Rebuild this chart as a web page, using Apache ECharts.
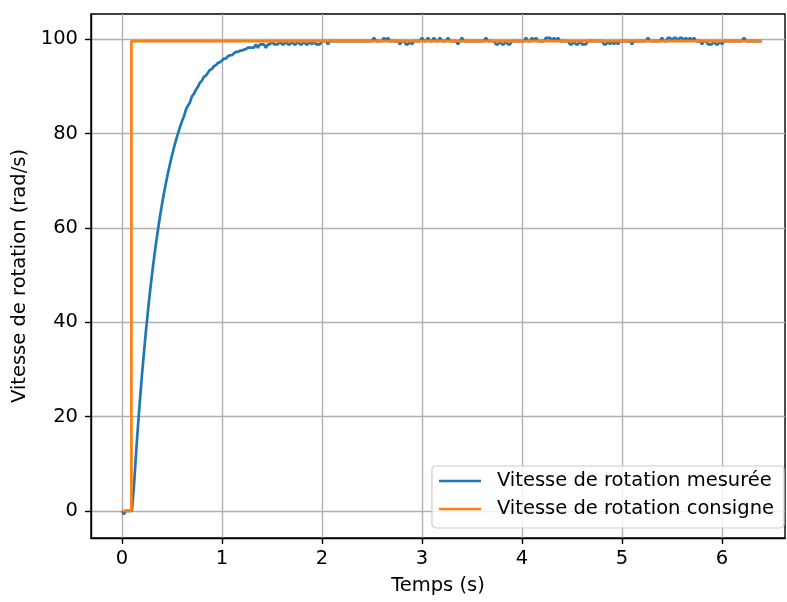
<!DOCTYPE html>
<html>
<head>
<meta charset="utf-8">
<script src="https://cdn.jsdelivr.net/npm/echarts@6/dist/echarts.min.js"></script>
<style>
html,body{margin:0;padding:0;background:#fff;}
#chart{width:787px;height:602px;}
</style>
</head>
<body>
<div id="chart"></div>
<script>
// Sampling step of the measured signal (s)
const sampleStep = 0.02;
// Measured rotation speed (rad/s), one value every 0.02 s from t = 0 s
const mesureeTransient = [
  0, -0.7, 0, 0, 0, 0, 5.2, 11.7, 17.8, 23.4,
  28.7, 33.5, 38.1, 42.3, 46.3, 50.0, 53.4, 56.6, 59.5, 62.3,
  64.9, 67.3, 69.5, 71.6, 73.5, 75.3, 77.0, 78.5, 80.0, 81.3,
  82.6, 83.6, 85.1, 85.9, 86.6, 87.9, 88.4, 89.3, 89.9, 90.8,
  91.2, 92.0, 92.3, 92.9, 93.5, 93.7, 94.3, 94.5, 95.0, 95.1,
  95.5, 95.9, 95.9, 96.4, 96.6, 96.6, 97.0, 97.3, 97.3, 97.6,
  97.6, 97.8, 97.9, 98.2, 98.2, 98.2, 98.2, 98.9, 98.2, 98.9,
  98.9, 98.9, 98.2, 98.9, 98.9, 99.6, 98.9, 98.9, 98.9, 99.6,
  98.9, 98.9, 99.6, 98.9, 98.9, 99.6, 98.9, 98.9, 99.6, 98.9,
  98.9, 99.6, 98.9, 98.9, 99.6, 98.9, 99.6, 98.9, 98.9, 98.9,
  99.6
];
const mesureeRegime = [
  99.6, 99.6, 98.9, 99.6, 99.6, 99.6, 99.6, 99.6, 99.6, 99.6,
  99.6, 99.6, 99.6, 99.6, 99.6, 99.6, 99.6, 99.6, 99.6, 99.6,
  99.6, 99.6, 99.6, 99.6, 99.6, 100.3, 99.6, 99.6, 99.6, 99.6,
  100.3, 99.6, 100.3, 99.6, 99.6, 99.6, 99.6, 99.6, 98.9, 99.6,
  99.6, 98.9, 98.9, 99.6, 98.9, 99.6, 99.6, 99.6, 99.6, 100.3,
  99.6, 99.6, 100.3, 99.6, 99.6, 100.3, 99.6, 99.6, 100.3, 99.6,
  99.6, 99.6, 100.3, 99.6, 99.6, 99.6, 99.6, 98.9, 99.6, 100.3,
  99.6, 99.6, 99.6, 99.6, 99.6, 99.6, 99.6, 99.6, 99.6, 99.6,
  99.6, 100.3, 99.6, 99.6, 99.6, 99.6, 98.9, 98.9, 99.6, 98.9,
  98.9, 99.6, 98.9, 98.9, 99.6, 99.6, 99.6, 99.6, 99.6, 99.6,
  99.6, 100.3, 99.6, 99.6, 100.3, 99.6, 100.3, 99.6, 99.6, 99.6,
  99.6, 100.3, 100.3, 100.3, 99.6, 100.3, 99.6, 100.3, 99.6, 99.6,
  99.6, 99.6, 99.6, 98.9, 98.9, 99.6, 98.9, 98.9, 99.6, 98.9,
  98.9, 98.9, 99.6, 99.6, 99.6, 99.6, 99.6, 99.6, 99.6, 99.6,
  98.9, 98.9, 99.6, 98.9, 99.6, 98.9, 99.6, 98.9, 99.6, 99.6,
  99.6, 99.6, 99.6, 99.6, 98.9, 99.6, 99.6, 99.6, 99.6, 99.6,
  99.6, 99.6, 100.3, 99.6, 99.6, 99.6, 99.6, 99.6, 99.6, 100.3,
  99.6, 99.6, 100.3, 100.3, 99.6, 100.3, 100.3, 99.6, 100.3, 100.3,
  99.6, 100.3, 99.6, 100.3, 99.6, 100.3, 99.6, 99.6, 99.6, 98.9,
  99.6, 99.6, 98.9, 98.9, 98.9, 99.6, 98.9, 98.9, 99.6, 98.9,
  99.6, 99.6, 99.6, 99.6, 99.6, 99.6, 99.6, 99.6, 99.6, 99.6,
  100.3, 99.6, 99.6, 99.6, 99.6, 99.6, 99.6, 99.6, 99.6, 99.6
];
// Setpoint (consigne) step
const consigneT = [0, 0.095, 0.095, 6.4];
const consigneV = [0, 0, 99.6, 99.6];
// Axis ticks
const xTicks = [0, 1, 2, 3, 4, 5, 6];
const yTicks = [0, 20, 40, 60, 80, 100];
const seriesNames = ['Vitesse de rotation mesurée', 'Vitesse de rotation consigne'];

const mesuree = mesureeTransient.concat(mesureeRegime);
const mesureeData = mesuree.map((v, i) => [+(i * sampleStep).toFixed(2), v]);
const consigneData = consigneT.map((t, i) => [t, consigneV[i]]);

const FONT = 'DejaVu Sans';
const FS = 19.5;
const chart = echarts.init(document.getElementById('chart'), null, {renderer: 'canvas'});
chart.setOption({
  animation: false,
  backgroundColor: '#ffffff',
  textStyle: {fontFamily: FONT},
  grid: {left: 91, right: 2, top: 14, bottom: 64, show: true, borderColor: '#000', borderWidth: 1.4, backgroundColor: 'transparent'},
  xAxis: {
    type: 'value', min: -0.309, max: 6.63,
    name: 'Temps (s)', nameLocation: 'middle', nameGap: 38,
    nameTextStyle: {fontFamily: FONT, fontSize: FS, color: '#000'},
    axisLine: {show: true, onZero: false, lineStyle: {color: '#000', width: 1.4}},
    axisTick: {show: true, length: 6, customValues: xTicks, lineStyle: {color: '#000', width: 1.4}},
    axisLabel: {customValues: xTicks, margin: 11, fontFamily: FONT, fontSize: FS, color: '#000'},
    splitLine: {show: true, lineStyle: {color: '#b0b0b0', width: 1.4}}
  },
  yAxis: {
    type: 'value', min: -5.75, max: 105.35,
    name: 'Vitesse de rotation (rad/s)', nameLocation: 'middle', nameGap: 61,
    nameTextStyle: {fontFamily: FONT, fontSize: FS, color: '#000'},
    axisLine: {show: true, onZero: false, lineStyle: {color: '#000', width: 1.4}},
    axisTick: {show: true, length: 6, customValues: yTicks, lineStyle: {color: '#000', width: 1.4}},
    axisLabel: {customValues: yTicks, margin: 13, fontFamily: FONT, fontSize: FS, color: '#000'},
    splitLine: {show: true, lineStyle: {color: '#b0b0b0', width: 1.4}}
  },
  legend: {
    orient: 'vertical', right: 3, bottom: 74,
    data: seriesNames,
    icon: 'rect', itemWidth: 42, itemHeight: 2.7, itemGap: 8,
    padding: [5, 10, 9, 7],
    backgroundColor: 'rgba(255,255,255,0.8)', borderColor: '#cccccc', borderWidth: 1.2, borderRadius: 4,
    textStyle: {fontFamily: FONT, fontSize: FS, color: '#000', padding: [0, 0, 0, 11]}
  },
  series: [
    {name: seriesNames[0], type: 'line', data: mesureeData, showSymbol: false, symbol: 'none',
     lineStyle: {color: '#1f77b4', width: 2.7}, itemStyle: {color: '#1f77b4'}, z: 2},
    {name: seriesNames[1], type: 'line', data: consigneData, showSymbol: false, symbol: 'none',
     lineStyle: {color: '#ff7f0e', width: 2.7}, itemStyle: {color: '#ff7f0e'}, z: 3}
  ]
});
</script>
</body>
</html>
